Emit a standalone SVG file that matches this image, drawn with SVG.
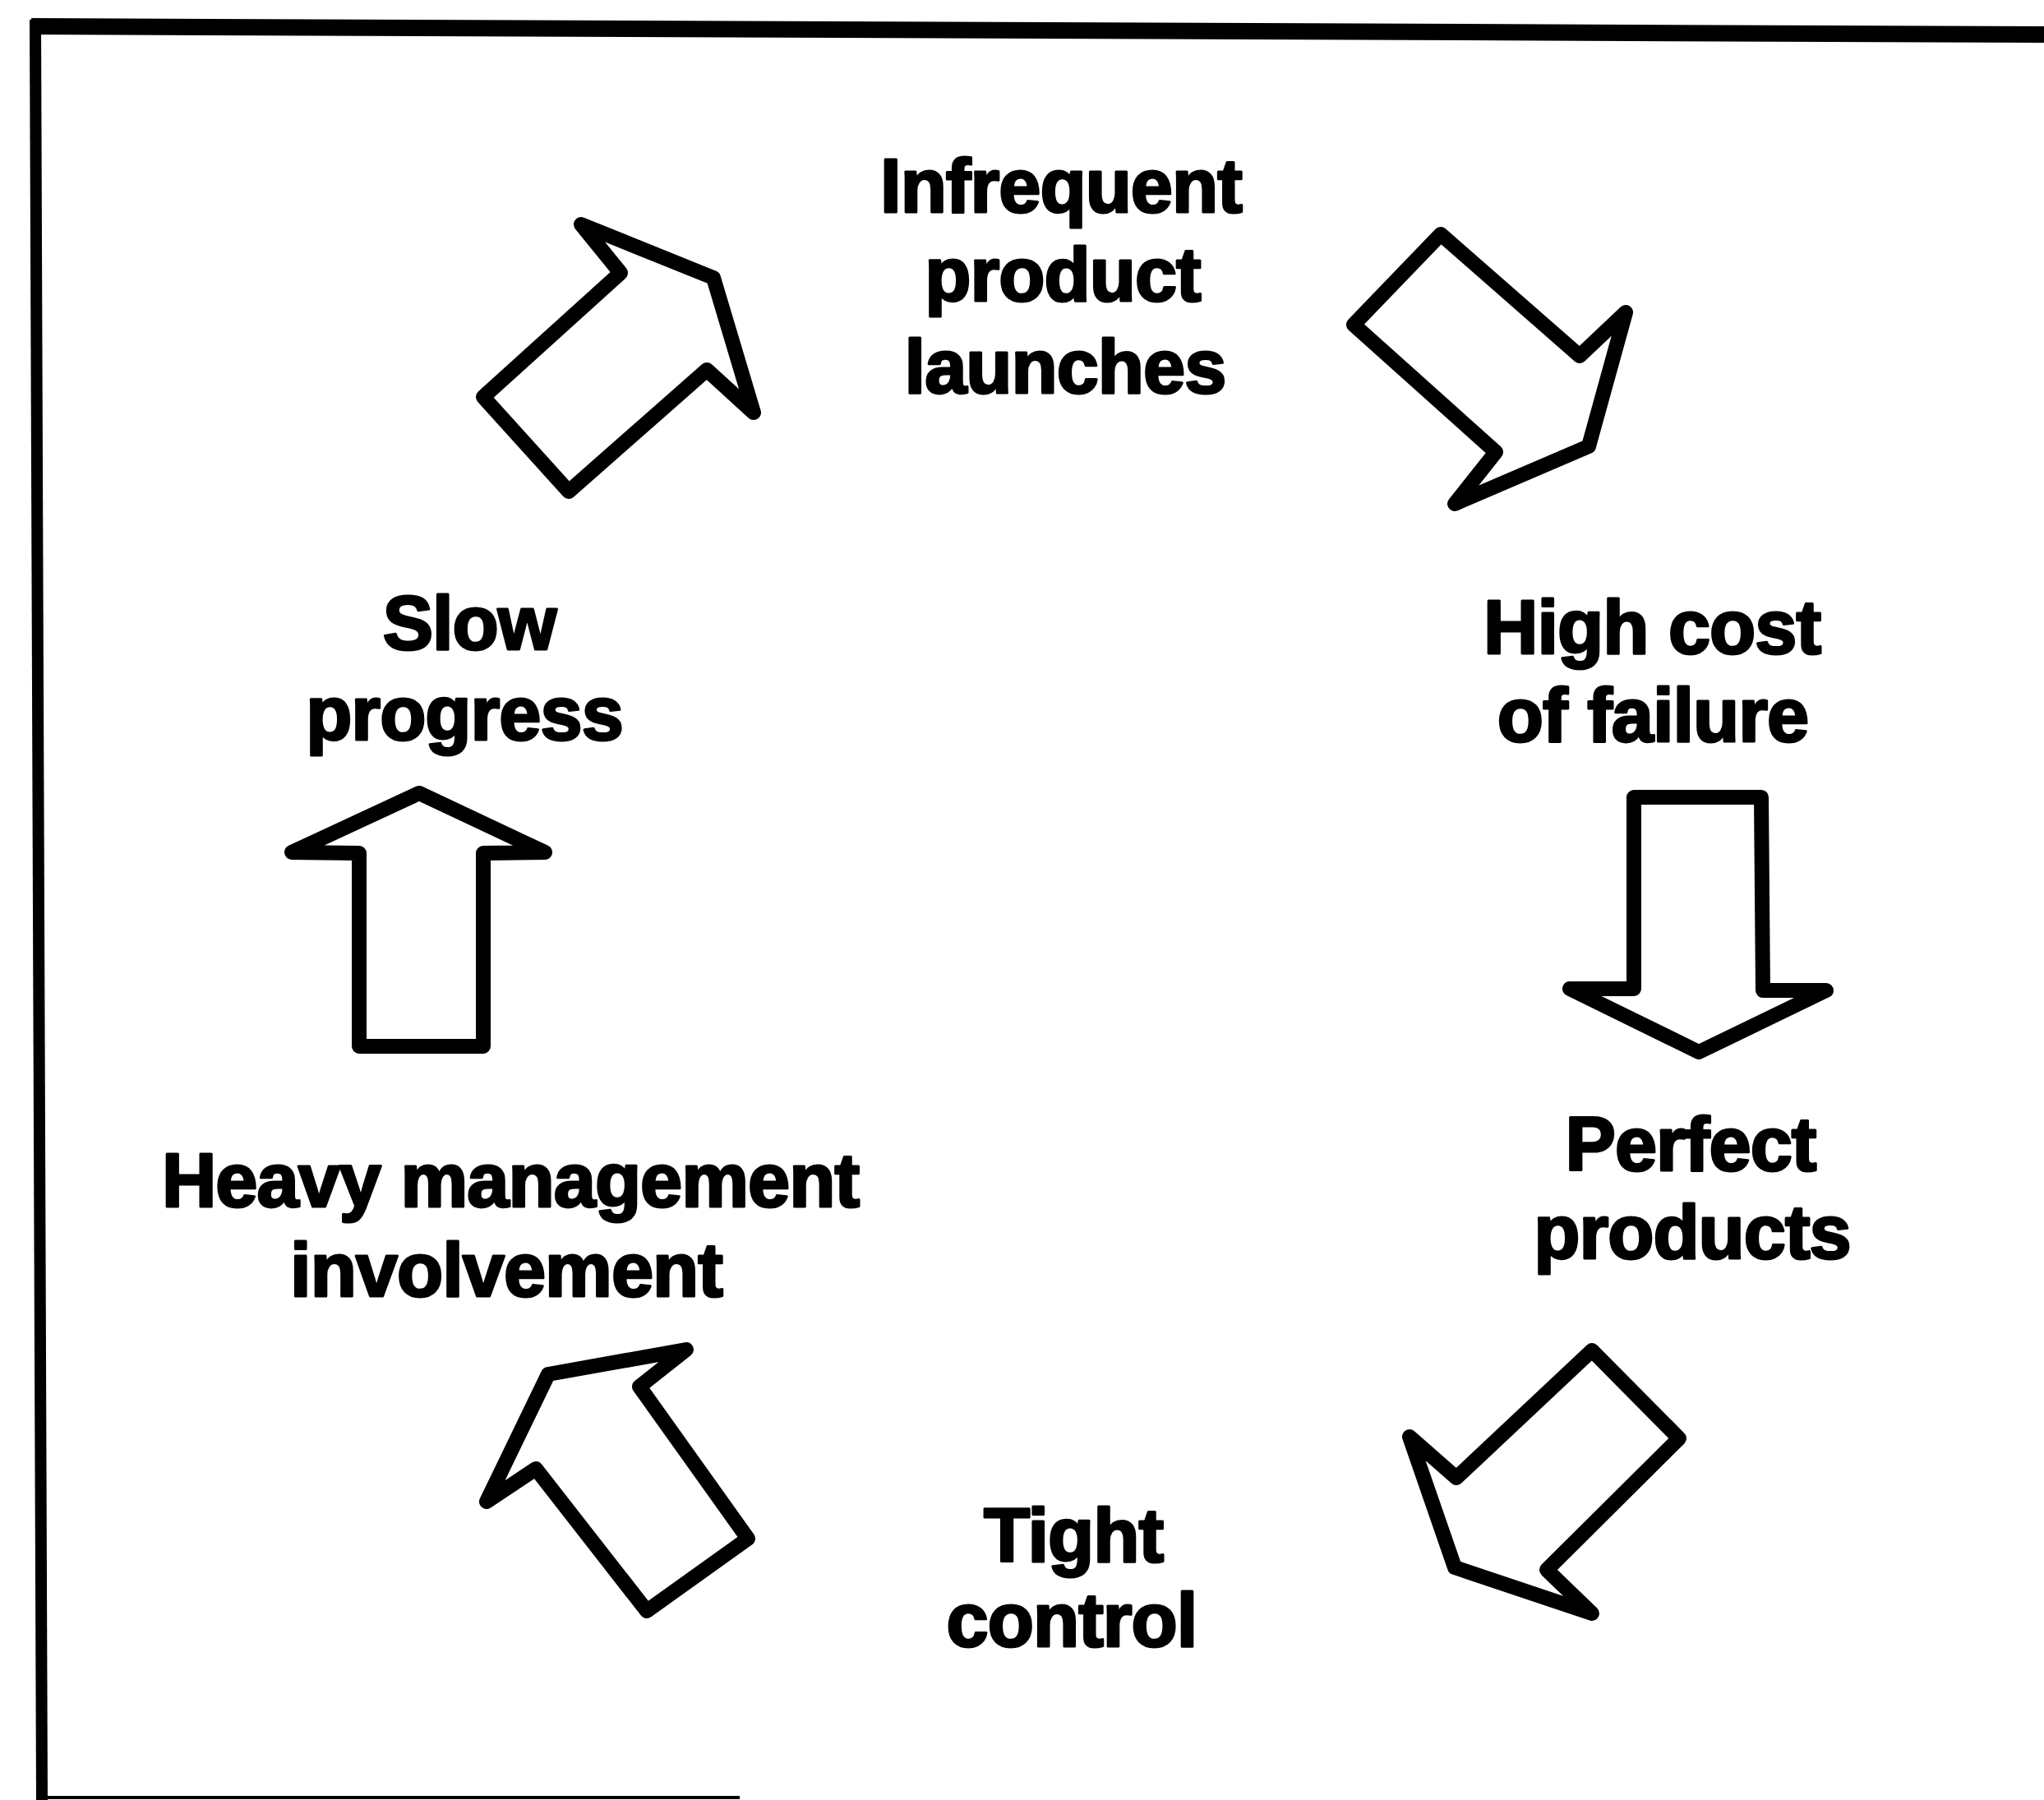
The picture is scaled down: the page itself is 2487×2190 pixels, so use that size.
<svg xmlns="http://www.w3.org/2000/svg" width="2487" height="2190" viewBox="0 0 2487 2190">
<style>
.arrow{fill:#fff;stroke:#000;stroke-width:18;stroke-linejoin:round}
.lbl{font-family:"Liberation Sans",Arial,sans-serif;font-weight:bold;font-size:92px;letter-spacing:-1px;fill:#000;stroke:#000;stroke-width:3;stroke-linejoin:round;text-anchor:middle}
.frame{stroke:#000;fill:none}
</style>
<rect width="2487" height="2190" fill="#fff"/>
<g id="frame">
<line class="frame" x1="38" y1="32" x2="2487" y2="42" stroke-width="20"/>
<line class="frame" x1="43" y1="24" x2="51" y2="2190" stroke-width="14"/>
<line class="frame" x1="44" y1="2187" x2="900" y2="2187" stroke-width="4"/>
</g>
<g id="connectors">
<polygon id="arrow-slow-to-infrequent" class="arrow" points="707,273 868,338 917,502 860,450 692,598 588,483 755,332"/>
<polygon id="arrow-infrequent-to-highcost" class="arrow" points="1753,285 1647,395 1820,550 1770,613 1933,543 1978,380 1922,433"/>
<polygon id="arrow-highcost-to-perfect" class="arrow" points="1988,970 2143,970 2145,1205 2222,1205 2067,1280 1910,1203 1988,1203"/>
<polygon id="arrow-perfect-to-tight" class="arrow" points="1937,1643 2043,1750 1882,1910 1937,1963 1770,1907 1715,1748 1772,1798"/>
<polygon id="arrow-tight-to-heavy" class="arrow" points="835,1642 667,1672 592,1827 652,1787 787,1960 910,1872 778,1687"/>
<polygon id="arrow-heavy-to-slow" class="arrow" points="510,965 663,1037 588,1038 588,1273 437,1273 437,1038 355,1037"/>
</g>
<g id="node-infrequent">
<text class="lbl" x="1291" y="258">Infrequent</text>
<text class="lbl" x="1293" y="366">product</text>
<text class="lbl" x="1296" y="478">launches</text>
</g>
<g id="node-highcost">
<text class="lbl" x="2010" y="795">High cost</text>
<text class="lbl" x="2011" y="902">of failure</text>
</g>
<g id="node-perfect">
<text class="lbl" x="2057" y="1424">Perfect</text>
<text class="lbl" x="2059" y="1531">products</text>
</g>
<g id="node-tight">
<text class="lbl" x="1306" y="1900">Tight</text>
<text class="lbl" x="1304" y="2003">control</text>
</g>
<g id="node-heavy">
<text class="lbl" x="621" y="1468">Heavy management</text>
<text class="lbl" x="616" y="1577">involvement</text>
</g>
<g id="node-slow">
<text class="lbl" x="571" y="790">Slow</text>
<text class="lbl" x="565" y="900">progress</text>
</g>
</svg>
